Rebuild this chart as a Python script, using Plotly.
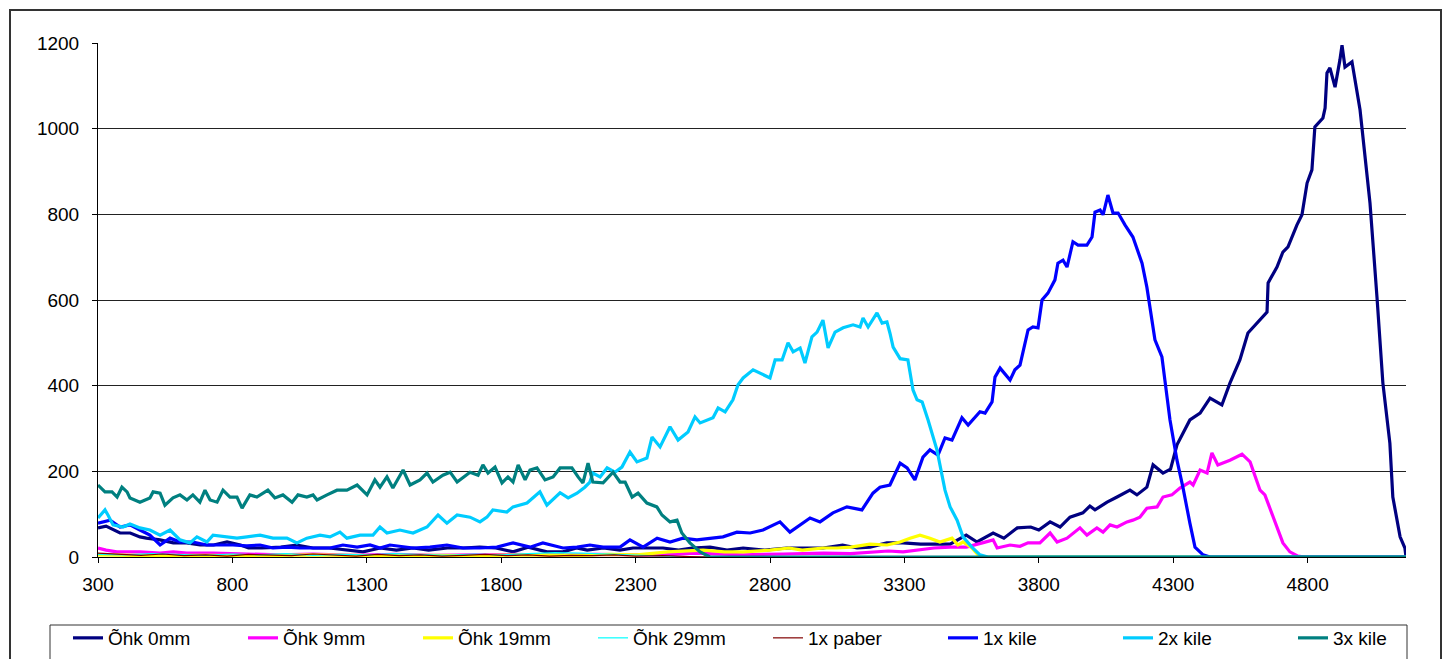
import plotly.graph_objects as go

# ---------------- data ----------------
ohk0_x = [300, 330, 382, 420, 456, 480, 531, 580, 630, 680, 730, 780, 830, 860, 910, 980, 1040, 1100, 1160, 1220,
          1286, 1350, 1410, 1472, 1530, 1600, 1658, 1720, 1780, 1844, 1900, 1970, 2030, 2080, 2120, 2180, 2242, 2290,
          2340, 2402, 2460, 2510, 2577, 2640, 2700, 2780, 2863, 2920, 2997, 3070, 3124, 3172, 3235, 3295, 3360, 3420,
          3470, 3530, 3570, 3630, 3670, 3720, 3770, 3800, 3842, 3879, 3916, 3964, 3990, 4009, 4054, 4091, 4139, 4165,
          4202, 4225, 4262, 4290, 4314, 4362, 4400, 4437, 4481, 4511, 4548, 4578, 4623, 4649, 4653, 4686, 4708, 4727,
          4760, 4779, 4798, 4816, 4827, 4857, 4865, 4872, 4883, 4902, 4920, 4928, 4939, 4965, 4995, 5032, 5058, 5080,
          5106, 5117, 5144, 5162, 5166]
ohk0_y = [68, 72, 56, 56, 47, 44, 40, 33, 33, 28, 28, 35, 28, 21, 21, 23, 28, 21, 21, 16,
          12, 21, 16, 21, 16, 21, 21, 23, 21, 12, 23, 12, 12, 21, 16, 21, 16, 21,
          21, 21, 16, 21, 23, 16, 21, 16, 21, 21, 21, 28, 21, 23, 33, 33, 30, 30,
          30, 51, 35, 56, 44, 68, 70, 63, 82, 70, 93, 103, 119, 110, 128, 140, 156, 145,
          163, 215, 196, 205, 262, 320, 336, 371, 355, 406, 460, 523, 553, 572, 640, 677, 712, 724,
          775, 799, 873, 904, 1004, 1025, 1048, 1130, 1142, 1097, 1160, 1195, 1144, 1156, 1044, 827, 607, 406,
          266, 140, 47, 21, 0]

ohk9_x = [300, 330, 370, 456, 531, 580, 630, 728, 854, 977, 1100, 1250, 1400, 1550, 1700, 1850, 2000, 2150, 2300,
          2402, 2520, 2700, 2850, 3000, 3100, 3172, 3240, 3295, 3350, 3410, 3470, 3530, 3590, 3630, 3645, 3693, 3730,
          3760, 3804, 3842, 3868, 3905, 3953, 3979, 4016, 4039, 4065, 4091, 4128, 4150, 4176, 4202, 4240, 4262, 4295,
          4325, 4362, 4374, 4400, 4426, 4444, 4466, 4511, 4556, 4586, 4623, 4641, 4671, 4708, 4734, 4764, 4790, 5166]
ohk9_y = [21, 16, 12, 12, 9, 12, 9, 9, 7, 5, 7, 4, 6, 4, 5, 6, 4, 6, 5,
          5, 9, 5, 7, 9, 8, 12, 14, 12, 16, 21, 23, 23, 33, 40, 21, 28, 25,
          33, 33, 56, 35, 44, 68, 51, 68, 58, 75, 70, 82, 86, 93, 114, 117, 140, 145,
          161, 175, 168, 203, 196, 243, 215, 226, 240, 222, 156, 145, 93, 33, 12, 2, 0, 0]

ohk19_x = [300, 500, 700, 900, 1100, 1300, 1500, 1700, 1900, 2100, 2200, 2305, 2420, 2551, 2630, 2700, 2800, 2870,
           2920, 2997, 3050, 3100, 3172, 3235, 3284, 3321, 3358, 3395, 3432, 3477, 3499, 3518, 3551, 3581, 5166]
ohk19_y = [5, 3, 4, 3, 5, 3, 4, 3, 5, 4, 6, 5, 12, 16, 12, 12, 16, 21,
           16, 21, 21, 23, 30, 28, 35, 44, 51, 44, 35, 44, 28, 35, 21, 0, 0]

ohk29_x = [300, 400, 500, 600, 700, 800, 900, 1000, 1100, 1200, 1300, 1400, 1500, 1600, 1700, 1800, 1900, 2000,
           2100, 2200, 2300, 2400, 2500, 5166]
ohk29_y = [6, 5, 8, 6, 4, 7, 5, 8, 4, 6, 5, 8, 6, 4, 7, 5, 8, 10,
           9, 7, 4, 2, 0, 0]

paber_x = [300, 380, 460, 540, 620, 700, 780, 860, 940, 1020, 1100, 1180, 1260, 1340, 1420, 1500, 1580, 1660,
           1740, 1820, 1900, 1980, 2060, 2140, 2220, 2300, 2400, 2500, 2600, 5166]
paber_y = [9, 6, 4, 7, 3, 5, 2, 6, 4, 3, 7, 4, 2, 6, 3, 5, 2, 4,
           6, 3, 5, 2, 4, 3, 5, 2, 3, 1, 0, 0]

kile1_x = [300, 345, 382, 419, 456, 493, 531, 568, 605, 653, 705, 754, 802, 854, 903, 951, 1003, 1051, 1100, 1163,
           1211, 1264, 1312, 1349, 1386, 1435, 1472, 1535, 1598, 1658, 1721, 1784, 1844, 1907, 1955, 2030, 2082, 2130,
           2179, 2242, 2279, 2328, 2380, 2428, 2476, 2528, 2577, 2625, 2677, 2726, 2774, 2837, 2874, 2912, 2949, 2986,
           3034, 3086, 3142, 3183, 3209, 3246, 3284, 3310, 3339, 3369, 3395, 3425, 3451, 3477, 3514, 3537, 3581, 3600,
           3626, 3637, 3656, 3693, 3711, 3730, 3760, 3778, 3797, 3812, 3834, 3860, 3871, 3890, 3905, 3927, 3946, 3979,
           3998, 4009, 4028, 4039, 4057, 4076, 4095, 4121, 4150, 4184, 4202, 4232, 4258, 4269, 4288, 4314, 4336, 4362,
           4381, 4411, 4437, 5166]
kile1_y = [79, 86, 70, 75, 63, 51, 28, 44, 35, 35, 28, 28, 28, 26, 28, 21, 23, 21, 21, 21,
           28, 23, 28, 21, 28, 23, 21, 23, 28, 21, 21, 23, 33, 23, 33, 21, 23, 28,
           23, 23, 40, 23, 44, 35, 44, 40, 44, 47, 58, 56, 63, 82, 58, 75, 91, 82,
           103, 117, 110, 149, 163, 168, 219, 208, 180, 233, 250, 238, 278, 273, 325, 308, 339, 336,
           362, 420, 441, 413, 437, 448, 530, 537, 535, 600, 616, 647, 686, 693, 677, 736, 728, 728,
           747, 805, 810, 799, 845, 803, 803, 775, 747, 686, 630, 507, 467, 413, 320, 226, 163, 79,
           23, 5, 0, 0]

kile2_x = [300, 326, 337, 356, 393, 419, 456, 493, 531, 568, 605, 642, 668, 705, 728, 780, 817, 854, 903, 951,
           1003, 1040, 1077, 1126, 1163, 1200, 1226, 1275, 1323, 1349, 1375, 1423, 1472, 1524, 1565, 1598, 1636, 1684,
           1721, 1747, 1769, 1821, 1844, 1896, 1944, 1970, 2019, 2049, 2082, 2111, 2130, 2141, 2168, 2194, 2223, 2249,
           2279, 2305, 2342, 2361, 2391, 2428, 2458, 2495, 2521, 2540, 2588, 2607, 2633, 2662, 2681, 2700, 2737, 2800,
           2819, 2845, 2867, 2886, 2912, 2930, 2956, 2975, 2997, 3016, 3042, 3072, 3109, 3135, 3146, 3165, 3198, 3217,
           3235, 3246, 3258, 3284, 3313, 3332, 3347, 3366, 3388, 3421, 3451, 3470, 3496, 3518, 3551, 3581, 3611, 5166]
kile2_y = [91, 110, 98, 75, 70, 77, 68, 63, 51, 63, 40, 33, 47, 35, 51, 47, 44, 47, 51, 44,
           44, 33, 44, 51, 47, 58, 44, 51, 51, 70, 56, 63, 56, 70, 98, 79, 98, 93,
           82, 93, 110, 105, 117, 126, 152, 121, 150, 138, 149, 163, 175, 196, 187, 208, 198, 210,
           245, 222, 231, 280, 257, 304, 273, 292, 327, 313, 325, 348, 339, 367, 402, 418, 437, 418,
           460, 460, 500, 479, 488, 453, 514, 525, 553, 488, 525, 535, 542, 537, 558, 537, 570, 546,
           549, 523, 490, 463, 460, 390, 367, 362, 320, 250, 156, 117, 86, 47, 23, 5, 0, 0]

kile3_x = [300, 326, 352, 371, 389, 408, 419, 456, 493, 505, 531, 549, 579, 605, 631, 653, 679, 698, 717, 743,
           765, 791, 817, 836, 865, 891, 932, 958, 988, 1022, 1044, 1077, 1100, 1115, 1152, 1189, 1226, 1264, 1301,
           1330, 1349, 1375, 1397, 1435, 1461, 1498, 1524, 1546, 1583, 1610, 1636, 1684, 1714, 1732, 1751, 1777, 1803,
           1825, 1844, 1863, 1889, 1907, 1933, 1963, 1993, 2019, 2045, 2063, 2086, 2104, 2123, 2141, 2179, 2216, 2242,
           2261, 2287, 2309, 2342, 2379, 2398, 2428, 2454, 2472, 2502, 2540, 2577, 5166]
kile3_y = [168, 152, 152, 140, 163, 152, 138, 128, 138, 152, 149, 121, 138, 145, 133, 145, 128, 156, 133, 128,
           156, 140, 140, 114, 145, 140, 156, 138, 145, 128, 145, 140, 145, 133, 145, 156, 156, 168, 145,
           180, 163, 187, 161, 203, 168, 180, 196, 175, 191, 198, 175, 198, 191, 215, 196, 210, 173,
           187, 175, 215, 180, 203, 208, 180, 187, 208, 208, 208, 187, 173, 219, 175, 173, 198, 175,
           175, 140, 149, 126, 117, 98, 82, 86, 56, 33, 12, 0, 0]

series_names = ["Õhk 0mm", "Õhk 9mm", "Õhk 19mm", "Õhk 29mm", "1x paber", "1x kile", "2x kile", "3x kile"]
x_ticks = [300, 800, 1300, 1800, 2300, 2800, 3300, 3800, 4300, 4800]
y_ticks = [0, 200, 400, 600, 800, 1000, 1200]

# ---------------- styling ----------------
colors = ["#000080", "#FF00FF", "#FFFF00", "#00FFFF", "#800000", "#0000FF", "#00CCFF", "#008080"]
widths = [3.2, 3.2, 3.2, 1.2, 1.2, 3.2, 3.2, 3.2]

xs = [ohk0_x, ohk9_x, ohk19_x, ohk29_x, paber_x, kile1_x, kile2_x, kile3_x]
ys = [ohk0_y, ohk9_y, ohk19_y, ohk29_y, paber_y, kile1_y, kile2_y, kile3_y]
for a, b in zip(xs, ys):
    assert len(a) == len(b), (len(a), len(b))

fig = go.Figure()
for name, x, y, c, w in zip(series_names, xs, ys, colors, widths):
    fig.add_trace(go.Scatter(x=x, y=y, mode="lines", name=name,
                             line=dict(color=c, width=w), cliponaxis=False))

W, H = 1450, 659
L, R, T, B = 98, 44, 43, 102
pw, ph = W - L - R, H - T - B

def px_x(p):
    return (p - L) / pw

def px_y(p):
    return (H - B - p) / ph

fig.update_layout(
    width=W, height=H,
    margin=dict(l=L, r=R, t=T, b=B, pad=0, autoexpand=False),
    paper_bgcolor="white", plot_bgcolor="white",
    font=dict(family="Liberation Sans, Arial, sans-serif", size=19, color="black"),
    showlegend=True,
    legend=dict(orientation="h", x=px_x(68), xanchor="left", y=px_y(619), yanchor="top",
                borderwidth=0, bgcolor="rgba(0,0,0,0)",
                font=dict(size=19), entrywidth=130, entrywidthmode="pixels",
                traceorder="normal", itemwidth=30),
    xaxis=dict(range=[300, 5166], tickmode="array", tickvals=x_ticks,
               ticktext=[str(v) for v in x_ticks],
               showgrid=False, zeroline=False, showline=True, linecolor="black", linewidth=1,
               ticks="outside", ticklen=5, tickcolor="black", ticklabelstandoff=5),
    yaxis=dict(range=[0, 1200], tickmode="array", tickvals=y_ticks,
               ticktext=[str(v) for v in y_ticks],
               showgrid=True, gridcolor="#222222", gridwidth=1, zeroline=False,
               showline=True, linecolor="black", linewidth=1,
               ticks="outside", ticklen=5, tickcolor="black", ticklabelstandoff=9),
)

# outer chart border
fig.add_shape(type="rect", xref="paper", yref="paper",
              x0=px_x(10), x1=px_x(1441), y0=px_y(675), y1=px_y(10),
              line=dict(color="#333333", width=2), fillcolor="rgba(0,0,0,0)", layer="below")
# legend frame
fig.add_shape(type="rect", xref="paper", yref="paper",
              x0=px_x(50), x1=px_x(1407), y0=px_y(672), y1=px_y(625),
              line=dict(color="#333333", width=1), fillcolor="rgba(0,0,0,0)", layer="below")

fig.write_html("out.html", config={"displayModeBar": False},
               post_script="document.body.style.margin='0';")
